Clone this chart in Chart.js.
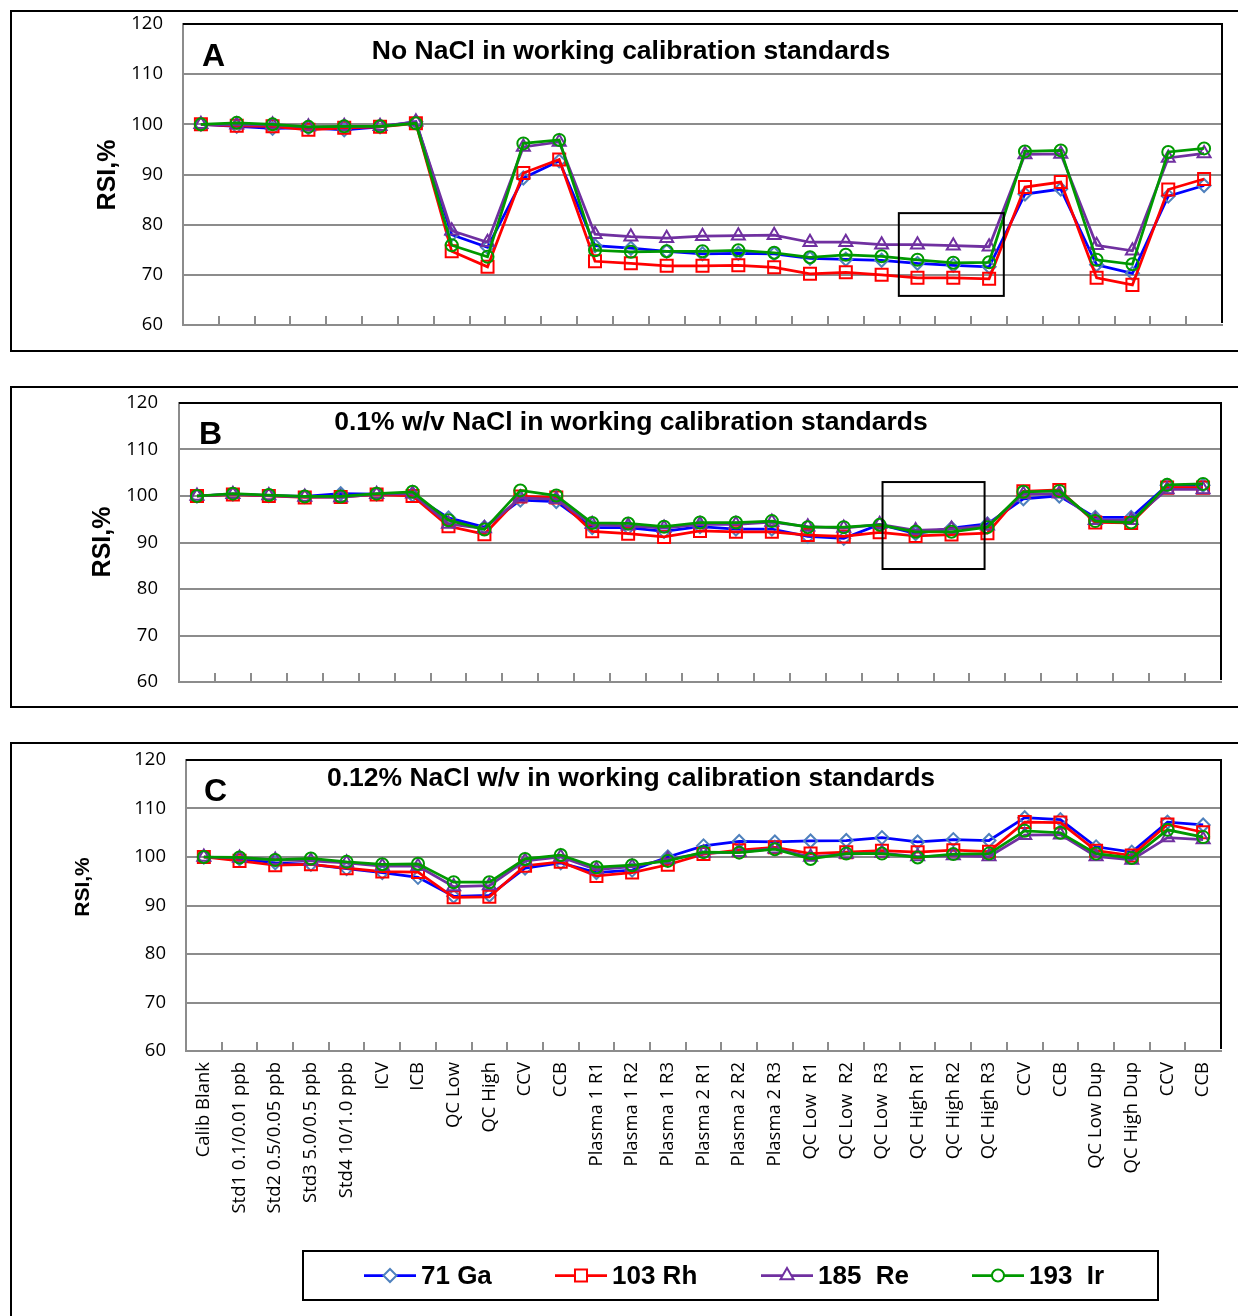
<!DOCTYPE html>
<html>
<head>
<meta charset="utf-8">
<script src="https://cdn.jsdelivr.net/npm/chart.js@4.4.1/dist/chart.umd.min.js"></script>
<style>
  html, body { margin: 0; padding: 0; background: #fff; }
  #page { position: relative; width: 1238px; height: 1316px; overflow: hidden; background: #fff; }
  .frame { position: absolute; border: 2px solid #000; box-sizing: border-box; }
  canvas { position: absolute; }
</style>
</head>
<body>
<div id="page">
  <div class="frame" style="left:10px;top:10px;width:1240px;height:342px"></div>
  <div class="frame" style="left:10px;top:386px;width:1240px;height:322px"></div>
  <div class="frame" style="left:10px;top:742px;width:1240px;height:600px"></div>
  <canvas id="chartA" width="1224" height="338" style="left:12px;top:12px;width:1224px;height:338px"></canvas>
  <canvas id="chartB" width="1224" height="318" style="left:12px;top:388px;width:1224px;height:318px"></canvas>
  <canvas id="chartC" width="1224" height="572" style="left:12px;top:744px;width:1224px;height:572px"></canvas>
</div>
<script>
// Sample sequence (x categories)
const samples = [
  'Calib Blank', 'Std1 0.1/0.01 ppb', 'Std2 0.5/0.05 ppb', 'Std3 5.0/0.5 ppb', 'Std4 10/1.0 ppb',
  'ICV', 'ICB', 'QC Low', 'QC High', 'CCV', 'CCB',
  'Plasma 1 R1', 'Plasma 1 R2', 'Plasma 1 R3', 'Plasma 2 R1', 'Plasma 2 R2', 'Plasma 2 R3',
  'QC Low  R1', 'QC Low  R2', 'QC Low  R3', 'QC High R1', 'QC High R2', 'QC High R3',
  'CCV', 'CCB', 'QC Low Dup', 'QC High Dup', 'CCV', 'CCB'
];

const seriesNames = ['71 Ga', '103 Rh', '185  Re', '193  Ir'];
const yTicks = [60, 70, 80, 90, 100, 110, 120];

// A: no NaCl in working calibration standards (RSI, %)
const gaA = [100, 99.6, 99.2, 99.3, 98.9, 99.5, 100.5, 78.0, 75.5, 89.3, 92.7, 75.8, 75.3, 74.7, 74.2, 74.3, 74.2, 73.3, 73.1, 72.9, 72.3, 71.9, 71.6, 86.1, 87.1, 72.0, 70.3, 85.7, 87.8];
const rhA = [100, 99.7, 99.6, 98.9, 99.3, 99.5, 100.2, 74.7, 71.6, 90.3, 93.0, 72.7, 72.3, 71.8, 71.8, 71.9, 71.5, 70.2, 70.5, 70.0, 69.4, 69.4, 69.2, 87.5, 88.5, 69.4, 68.0, 87.0, 89.1];
const reA = [100, 99.9, 99.9, 99.5, 99.6, 99.6, 100.5, 78.8, 76.5, 95.5, 96.5, 78.1, 77.6, 77.3, 77.7, 77.8, 77.9, 76.5, 76.5, 76.0, 76.0, 75.8, 75.6, 94.0, 94.1, 75.9, 74.8, 93.3, 94.2];
const irA = [100, 100.3, 100.0, 99.5, 99.6, 99.6, 100.2, 75.9, 73.6, 96.2, 96.9, 74.9, 74.6, 74.7, 74.7, 74.9, 74.4, 73.5, 74.0, 73.7, 73.0, 72.4, 72.5, 94.6, 94.8, 73.0, 72.1, 94.5, 95.2];

// B: 0.1% w/v NaCl
const gaB = [100, 100.4, 100.1, 99.9, 100.5, 100.4, 100.2, 95.3, 93.3, 99.1, 98.8, 93.2, 93.2, 92.4, 93.4, 92.9, 92.9, 91.3, 90.9, 93.9, 91.9, 93.1, 94.0, 99.4, 100.0, 95.4, 95.4, 102.3, 102.3];
const rhB = [100, 100.3, 100.0, 99.7, 99.8, 100.3, 100.0, 93.5, 91.8, 99.9, 99.7, 92.4, 91.9, 91.2, 92.5, 92.3, 92.3, 91.6, 91.3, 92.2, 91.4, 91.7, 92.0, 101.0, 101.3, 94.3, 94.2, 101.8, 101.8];
const reB = [100, 100.4, 100.1, 99.8, 99.7, 100.4, 100.5, 94.0, 93.0, 99.6, 99.3, 93.9, 93.6, 93.1, 93.9, 93.9, 94.4, 93.4, 93.1, 93.9, 92.6, 92.9, 93.6, 100.4, 100.5, 94.8, 94.8, 101.4, 101.4];
const irB = [100, 100.5, 100.2, 99.9, 99.9, 100.5, 100.9, 94.8, 92.8, 101.2, 100.1, 94.2, 94.1, 93.4, 94.3, 94.3, 94.6, 93.3, 93.3, 93.8, 92.3, 92.3, 93.3, 100.9, 101.1, 94.6, 94.3, 102.4, 102.6];

// C: 0.12% NaCl w/v
const gaC = [100, 99.6, 98.8, 98.5, 97.6, 96.8, 95.8, 91.9, 92.1, 97.7, 98.8, 96.8, 97.3, 100.0, 102.3, 103.2, 103.1, 103.3, 103.4, 104.0, 103.1, 103.6, 103.4, 108.1, 107.7, 102.1, 101.0, 107.2, 106.6];
const rhC = [100, 99.2, 98.3, 98.5, 97.7, 97.0, 96.9, 91.7, 91.8, 98.2, 99.0, 96.1, 96.8, 98.4, 100.6, 101.4, 102.0, 100.7, 101.0, 101.3, 101.0, 101.4, 101.1, 107.2, 107.1, 101.3, 100.3, 106.7, 105.1];
const reC = [100, 99.8, 99.4, 99.2, 98.8, 98.1, 98.1, 93.9, 94.1, 99.2, 100.0, 97.4, 98.0, 99.5, 100.8, 101.0, 101.7, 100.0, 100.6, 100.8, 100.1, 100.3, 100.1, 104.5, 104.6, 100.1, 99.4, 104.0, 103.6];
const irC = [100, 99.9, 99.4, 99.7, 99.0, 98.5, 98.6, 94.8, 94.8, 99.6, 100.4, 97.9, 98.3, 99.2, 101.0, 100.9, 101.6, 99.6, 100.7, 100.7, 99.9, 100.6, 100.7, 105.4, 105.0, 100.7, 99.8, 105.6, 104.1];

// Series appearance: line colour, marker colour, marker shape and size
const styles = [
  { line: '#0000FF', mark: '#4F81BD', shape: 'rectRot', r: 6.5 },
  { line: '#FF0000', mark: '#FF0000', shape: 'rect', r: 8.5 },
  { line: '#7030A0', mark: '#7030A0', shape: 'triangle', r: 7.5 },
  { line: '#009900', mark: '#009900', shape: 'circle', r: 6 }
];
const GRID = '#8c8c8c';
const TICK_FONT = { family: "'Open Sans', sans-serif", size: 18.5 };

function drawMarker(ctx, shape, x, y, r) {
  ctx.beginPath();
  if (shape === 'rectRot') {
    ctx.moveTo(x, y - r); ctx.lineTo(x + r, y); ctx.lineTo(x, y + r); ctx.lineTo(x - r, y); ctx.closePath();
  } else if (shape === 'rect') {
    const s = r * Math.SQRT1_2; ctx.rect(x - s, y - s, 2 * s, 2 * s);
  } else if (shape === 'triangle') {
    for (let k = 0; k < 3; k++) {
      const a = k * 2 * Math.PI / 3;
      const px = x + Math.sin(a) * r, py = y - Math.cos(a) * r;
      if (k === 0) ctx.moveTo(px, py); else ctx.lineTo(px, py);
    }
    ctx.closePath();
  } else {
    ctx.arc(x, y, r, 0, Math.PI * 2);
  }
  ctx.fill(); ctx.stroke();
}

// Panel decorations: inner tick marks, plot frame, panel letter and title,
// vertical axis title, highlight box and (for the last panel) the legend.
const panelDeco = {
  id: 'panelDeco',
  afterDraw(chart, args, o) {
    const { ctx, chartArea: a, scales: { x, y } } = chart;
    ctx.save();
    // tick marks between categories, pointing into the plot
    ctx.strokeStyle = GRID; ctx.lineWidth = 2;
    const n = chart.data.labels.length;
    for (let i = 0; i < n - 1; i++) {
      const px = Math.round((x.getPixelForValue(i) + x.getPixelForValue(i + 1)) / 2);
      ctx.beginPath(); ctx.moveTo(px, a.bottom); ctx.lineTo(px, a.bottom - 9); ctx.stroke();
    }
    // top and right plot border
    ctx.strokeStyle = '#000'; ctx.lineWidth = 2;
    ctx.beginPath(); ctx.moveTo(a.left, a.top); ctx.lineTo(a.right, a.top); ctx.lineTo(a.right, a.bottom - 2); ctx.stroke();

    // highlight box
    if (o.box) {
      const x1 = x.getPixelForValue(o.box[0]), x2 = x.getPixelForValue(o.box[1]);
      const y1 = y.getPixelForValue(o.box[2]), y2 = y.getPixelForValue(o.box[3]);
      ctx.strokeStyle = '#000'; ctx.lineWidth = 2;
      ctx.strokeRect(x1, y1, x2 - x1, y2 - y1);
    }

    ctx.fillStyle = '#000';
    ctx.textBaseline = 'middle';
    // panel letter
    ctx.font = "bold 32px 'Liberation Sans', Arial, sans-serif";
    ctx.textAlign = 'left';
    ctx.fillText(o.letter, o.letterX, o.letterY);
    // panel title
    ctx.font = "bold 26.5px 'Liberation Sans', Arial, sans-serif";
    ctx.textAlign = 'center';
    ctx.fillText(o.title, o.titleX, o.titleY);
    // axis title
    ctx.save();
    ctx.translate(o.yTitleX, o.yTitleY);
    ctx.rotate(-Math.PI / 2);
    ctx.font = "bold " + o.yTitleSize + "px 'Liberation Sans', Arial, sans-serif";
    ctx.fillText('RSI,%', 0, 0);
    ctx.restore();

    // legend
    if (o.legend) {
      const L = o.legend;
      ctx.strokeStyle = '#000'; ctx.lineWidth = 2;
      ctx.strokeRect(L.x, L.y, L.w, L.h);
      const cy = L.y + L.h / 2;
      ctx.font = "bold 26px 'Liberation Sans', Arial, sans-serif";
      ctx.textAlign = 'left';
      ctx.textBaseline = 'middle';
      L.items.forEach((it, i) => {
        const s = styles[i];
        ctx.strokeStyle = s.line; ctx.lineWidth = 2.75;
        ctx.beginPath(); ctx.moveTo(it.x0, cy); ctx.lineTo(it.x0 + 52, cy); ctx.stroke();
        ctx.strokeStyle = s.mark; ctx.fillStyle = '#fff'; ctx.lineWidth = 2;
        drawMarker(ctx, s.shape, it.x0 + 26, cy, s.r);
        ctx.fillStyle = '#000';
        ctx.fillText(seriesNames[i], it.x0 + 57, cy + 1);
      });
    }
    ctx.restore();
  }
};

function makeDatasets(values) {
  return values.map((vals, i) => ({
    label: seriesNames[i],
    data: vals,
    borderColor: styles[i].line,
    borderWidth: 2.75,
    pointStyle: styles[i].shape,
    pointRadius: styles[i].r,
    pointHoverRadius: styles[i].r,
    pointBorderColor: styles[i].mark,
    pointBackgroundColor: 'rgba(255,255,255,0)',
    pointBorderWidth: 2,
    fill: false,
    tension: 0,
    order: 4 - i
  }));
}

function makeChart(id, values, cfg) {
  return new Chart(document.getElementById(id), {
    type: 'line',
    data: { labels: samples, datasets: makeDatasets(values) },
    options: {
      responsive: false,
      animation: false,
      devicePixelRatio: 1,
      layout: { autoPadding: false, padding: { top: cfg.padTop, right: cfg.padRight, left: 0, bottom: 0 } },
      plugins: {
        legend: { display: false },
        tooltip: { enabled: false },
        panelDeco: cfg.deco
      },
      scales: {
        x: {
          type: 'category',
          offset: true,
          grid: { display: true, drawOnChartArea: false, drawTicks: false },
          border: { display: true, color: GRID, width: 2 },
          ticks: {
            display: cfg.showLabels,
            autoSkip: false,
            minRotation: 90,
            maxRotation: 90,
            padding: 11,
            color: '#000',
            font: TICK_FONT
          },
          afterFit: s => { s.height = cfg.xHeight; s.paddingLeft = 0; s.paddingRight = 0; }
        },
        y: {
          min: 60,
          max: 120,
          afterBuildTicks: s => { s.ticks = yTicks.map(v => ({ value: v })); },
          grid: { color: GRID, lineWidth: 2, drawTicks: false },
          border: { display: true, color: GRID, width: 2 },
          ticks: { padding: cfg.yPad, color: '#000', font: TICK_FONT },
          afterFit: s => { s.width = cfg.yWidth; s.paddingTop = 0; s.paddingBottom = 0; }
        }
      }
    },
    plugins: [panelDeco]
  });
}

makeChart('chartA', [gaA, rhA, reA, irA], {
  padTop: 12, padRight: 14, yWidth: 171, yPad: 20, xHeight: 25, showLabels: false,
  deco: {
    letter: 'A', letterX: 190, letterY: 45,
    title: 'No NaCl in working calibration standards', titleX: 619, titleY: 40,
    yTitleX: 96, yTitleY: 163, yTitleSize: 25,
    box: [19.48, 22.41, 82.3, 65.8]
  }
});

makeChart('chartB', [gaB, rhB, reB, irB], {
  padTop: 15, padRight: 15, yWidth: 167, yPad: 21, xHeight: 24, showLabels: false,
  deco: {
    letter: 'B', letterX: 187, letterY: 47,
    title: '0.1% w/v NaCl in working calibration standards', titleX: 619, titleY: 35,
    yTitleX: 91, yTitleY: 154, yTitleSize: 25,
    box: [19.08, 21.92, 103.0, 84.3]
  }
});

makeChart('chartC', [gaC, rhC, reC, irC], {
  padTop: 16, padRight: 15, yWidth: 174, yPad: 20, xHeight: 265, showLabels: true,
  deco: {
    letter: 'C', letterX: 192, letterY: 48,
    title: '0.12% NaCl w/v in working calibration standards', titleX: 619, titleY: 35,
    yTitleX: 71, yTitleY: 143, yTitleSize: 21,
    legend: {
      x: 291, y: 507, w: 855, h: 49,
      items: [{ x0: 352 }, { x0: 543 }, { x0: 749 }, { x0: 960 }]
    }
  }
});
</script>
</body>
</html>
